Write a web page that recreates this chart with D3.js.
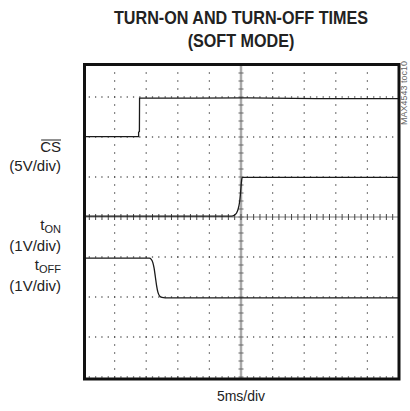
<!DOCTYPE html>
<html>
	<head>
		<script src="https://cdn.jsdelivr.net/npm/d3@7/dist/d3.min.js" charset="UTF-8"></script>
		<style type="text/css">
			body { margin: 0; background: #fff; }
			svg { display: block; }
			.lbl { font-family: "Liberation Sans", Arial, sans-serif; font-size: 15px; fill: #222; }
			.title { font-family: "Liberation Sans", Arial, sans-serif; font-weight: bold; font-size: 19px; fill: #222; }
			.grid circle { fill: #444; }
			.trace { fill: none; stroke: #1a1a1a; stroke-width: 1.3; }
		</style>
	</head>
	<body>
		<script type="text/javascript">
			var width = 410;
			var height = 411;

			// scope screen: 10 time divisions, 8 voltage divisions
			var xDivs = d3.range(0, 11);
			var yDivs = d3.range(0, 9);

			// traces, in divisions (time, level)
			var csT = [0, 1.76, 1.76, 1.785, 1.79, 3.5, 5.2, 7.4, 10];
			var csV = [6.01, 6.01, 6.12, 6.14, 6.97, 6.97, 6.98, 6.96, 6.96];

			var tonT = [0, 4.70, 4.80, 4.86, 4.91, 4.95, 4.98, 5.00, 5.02, 5.04, 7.5, 10];
			var tonV = [4.02, 4.02, 4.05, 4.10, 4.20, 4.35, 4.55, 4.75, 4.92, 4.99, 4.99, 4.99];

			var toffT = [0, 2.10, 2.16, 2.21, 2.25, 2.29, 2.33, 2.37, 2.42, 2.50, 2.60, 10];
			var toffV = [2.97, 2.97, 2.94, 2.86, 2.72, 2.50, 2.28, 2.12, 2.03, 1.99, 1.98, 1.98];

			var titleLines = ["TURN-ON AND TURN-OFF TIMES", "(SOFT MODE)"];
			var xLabel = "5ms/div";
			var tocLabel = "MAX4543 toc10";

			var svg = d3.select("body")
				.append("svg")
				.attr("width", width)
				.attr("height", height);

			var xScale = d3.scaleLinear()
				.domain([0, 10])
				.range([83, 399]);
			var yScale = d3.scaleLinear()
				.domain([0, 8])
				.range([377, 57]);

			// visible screen (top of the graticule is cut off)
			var frame = {x0: 84.5, x1: 399, y0: 64.5, y1: 379};

			svg.append("clipPath").attr("id", "screen")
				.append("rect")
				.attr("x", frame.x0).attr("y", frame.y0)
				.attr("width", frame.x1 - frame.x0).attr("height", frame.y1 - frame.y0);

			var screen = svg.append("g").attr("clip-path", "url(#screen)");
			var grid = screen.append("g").attr("class", "grid");

			// dotted graticule, one dot per 1/5 division
			var minorX = d3.range(0, 50.01).map(function(i) { return i / 5; });
			var minorY = d3.range(0, 40.01).map(function(i) { return i / 5; });

			xDivs.forEach(function(d) {
				if (d === 5) return;
				grid.selectAll(null).data(minorY).enter().append("circle")
					.attr("cx", xScale(d)).attr("cy", function(v) { return yScale(v); })
					.attr("r", 0.75);
			});
			yDivs.forEach(function(d) {
				if (d === 4) return;
				grid.selectAll(null).data(minorX).enter().append("circle")
					.attr("cx", function(v) { return xScale(v); }).attr("cy", yScale(d))
					.attr("r", 0.75);
			});

			// centre axes with ticks
			screen.append("line")
				.attr("x1", xScale(5)).attr("x2", xScale(5))
				.attr("y1", frame.y0).attr("y2", frame.y1)
				.attr("stroke", "#aaa").attr("stroke-width", 2.5);
			screen.append("line")
				.attr("x1", frame.x0).attr("x2", frame.x1)
				.attr("y1", yScale(4)).attr("y2", yScale(4))
				.attr("stroke", "#aaa").attr("stroke-width", 1.5);
			screen.selectAll(".vtick").data(minorY).enter().append("line")
				.attr("x1", xScale(5) - 2.5).attr("x2", xScale(5) + 2.5)
				.attr("y1", function(v) { return yScale(v); })
				.attr("y2", function(v) { return yScale(v); })
				.attr("stroke", "#666").attr("stroke-width", 1);
			screen.selectAll(".htick").data(minorX).enter().append("line")
				.attr("x1", function(v) { return xScale(v); })
				.attr("x2", function(v) { return xScale(v); })
				.attr("y1", yScale(4) - 3).attr("y2", yScale(4) + 3)
				.attr("stroke", "#444").attr("stroke-width", 1);

			// traces
			var stepLine = d3.line()
				.x(function(d) { return xScale(d[0]); })
				.y(function(d) { return yScale(d[1]); });
			var smoothLine = d3.line()
				.curve(d3.curveMonotoneX)
				.x(function(d) { return xScale(d[0]); })
				.y(function(d) { return yScale(d[1]); });

			screen.append("path").attr("class", "trace")
				.attr("d", stepLine(d3.zip(csT, csV)));
			screen.append("path").attr("class", "trace")
				.attr("d", smoothLine(d3.zip(tonT, tonV)));
			screen.append("path").attr("class", "trace")
				.attr("d", smoothLine(d3.zip(toffT, toffV)));

			// frame
			svg.append("rect")
				.attr("x", frame.x0).attr("y", frame.y0)
				.attr("width", frame.x1 - frame.x0).attr("height", frame.y1 - frame.y0)
				.attr("fill", "none").attr("stroke", "#111").attr("stroke-width", 3);

			// title, squeezed horizontally to look like a condensed face
			svg.selectAll(".title").data(titleLines).enter().append("text")
				.attr("class", "title")
				.attr("transform", function(d, i) {
					return "translate(241," + (24 + i * 23) + ") scale(0.85,1)";
				})
				.attr("text-anchor", "middle")
				.text(function(d) { return d; });

			// channel labels
			var lx = 61;
			var cs = svg.append("text").attr("class", "lbl")
				.attr("x", lx).attr("y", 152).attr("text-anchor", "end").text("CS");
			var bb = cs.node().getBBox();
			svg.append("line")
				.attr("x1", bb.x + 1).attr("x2", bb.x + bb.width)
				.attr("y1", bb.y + 2).attr("y2", bb.y + 2)
				.attr("stroke", "#222").attr("stroke-width", 1);
			svg.append("text").attr("class", "lbl")
				.attr("x", lx).attr("y", 171).attr("text-anchor", "end").text("(5V/div)");

			function subLabel(y, sub) {
				var t = svg.append("text").attr("class", "lbl")
					.attr("x", lx).attr("y", y).attr("text-anchor", "end");
				t.append("tspan").text("t");
				t.append("tspan").attr("font-size", 11).attr("dy", 3).text(sub);
			}
			subLabel(230, "ON");
			svg.append("text").attr("class", "lbl")
				.attr("x", lx).attr("y", 251).attr("text-anchor", "end").text("(1V/div)");
			subLabel(270, "OFF");
			svg.append("text").attr("class", "lbl")
				.attr("x", lx).attr("y", 291).attr("text-anchor", "end").text("(1V/div)");

			svg.append("text").attr("class", "lbl")
				.attr("x", 241).attr("y", 401).attr("text-anchor", "middle")
				.style("font-size", "14px")
				.text(xLabel);

			svg.append("text")
				.attr("transform", "translate(407,125) rotate(-90)")
				.attr("font-family", "Liberation Sans, Arial, sans-serif")
				.attr("font-size", 9)
				.attr("fill", "#666")
				.text(tocLabel);
		</script>
	</body>
</html>
